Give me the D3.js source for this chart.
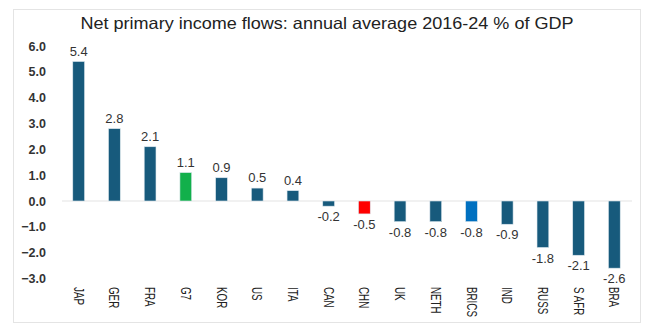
<!DOCTYPE html>
<html>
<head>
<meta charset="utf-8">
<script src="https://cdn.jsdelivr.net/npm/d3@7"></script>
<style>
  body { margin: 0; background: #fff; }
  svg { font-family: "Liberation Sans", Arial, sans-serif; }
</style>
</head>
<body>
<div id="chart"></div>
<script>
// Chart data
var countries = ["JAP", "GER", "FRA", "G7", "KOR", "US", "ITA", "CAN", "CHN", "UK", "NETH", "BRICS", "IND", "RUSS", "S AFR", "BRA"];
var values = [5.4, 2.8, 2.1, 1.1, 0.9, 0.5, 0.4, -0.2, -0.5, -0.8, -0.8, -0.8, -0.9, -1.8, -2.1, -2.6];
var yTicks = [6, 5, 4, 3, 2, 1, 0, -1, -2, -3];
var highlight = { "G7": "#12b04b", "CHN": "#ff0000", "BRICS": "#0070c0" };

var width = 650, height = 336;
var svg = d3.select("#chart")
            .append("svg")
                .attr("width", width)
                .attr("height", height);

// Chart frame
svg.append("rect")
   .attr("x", 13.5).attr("y", 9.5)
   .attr("width", 627).attr("height", 313)
   .attr("fill", "#fff")
   .attr("stroke", "#e4e4e4");

// Title
svg.append("text")
   .attr("x", 327).attr("y", 29)
   .attr("text-anchor", "middle")
   .attr("textLength", 493)
   .attr("lengthAdjust", "spacingAndGlyphs")
   .style("font-size", "16.5px")
   .style("fill", "#222")
   .text("Net primary income flows: annual average 2016-24 % of GDP");

// Scales
var x = d3.scaleBand()
          .domain(countries)
          .range([61, 632])
          .paddingInner(0.67)
          .paddingOuter(0.33);

var y = d3.scaleLinear()
          .domain([-3, 6])
          .range([278.5, 46]);

// Y axis
var yAxis = d3.axisLeft(y)
              .tickValues(yTicks)
              .tickFormat(d3.format(".1f"))
              .tickSize(0)
              .tickPadding(0);

svg.append("g")
   .attr("transform", "translate(46,0)")
   .call(yAxis)
   .call(function(g) { g.select(".domain").remove(); })
   .selectAll("text")
       .style("font-size", "12.5px")
       .style("font-weight", "bold")
       .style("fill", "#333");

// Zero line
svg.append("line")
   .attr("x1", 62).attr("x2", 632)
   .attr("y1", y(0)).attr("y2", y(0))
   .attr("stroke", "#ececec")
   .attr("stroke-width", 1.5);

// Bars
svg.selectAll(".bar")
   .data(countries)
   .enter()
   .append("rect")
       .attr("class", "bar")
       .attr("x", function(d) { return x(d); })
       .attr("width", x.bandwidth())
       .attr("y", function(d, i) { return y(Math.max(0, values[i])); })
       .attr("height", function(d, i) { return Math.abs(y(values[i]) - y(0)); })
       .attr("fill", function(d) { return highlight[d] || "#175a7c"; })
       .attr("stroke", "#dde8ee")
       .attr("stroke-width", 0.6);

// Value labels
svg.selectAll(".val")
   .data(countries)
   .enter()
   .append("text")
       .attr("class", "val")
       .attr("x", function(d) { return x(d) + x.bandwidth() / 2; })
       .attr("y", function(d, i) {
           return values[i] >= 0 ? y(values[i]) - 6 : y(values[i]) + 15;
       })
       .attr("text-anchor", "middle")
       .style("font-size", "13px")
       .style("fill", "#333")
       .text(function(d, i) { return values[i].toFixed(1); });

// Category labels, rotated and squeezed (narrow font look)
svg.selectAll(".cat")
   .data(countries)
   .enter()
   .append("text")
       .attr("class", "cat")
       .attr("transform", function(d) {
           return "translate(" + (x(d) + x.bandwidth() / 2) + ",287) rotate(90) scale(0.7,1)";
       })
       .attr("dy", "0.35em")
       .attr("text-anchor", "start")
       .style("font-size", "14px")
       .style("fill", "#222")
       .text(function(d) { return d; });
</script>
</body>
</html>
